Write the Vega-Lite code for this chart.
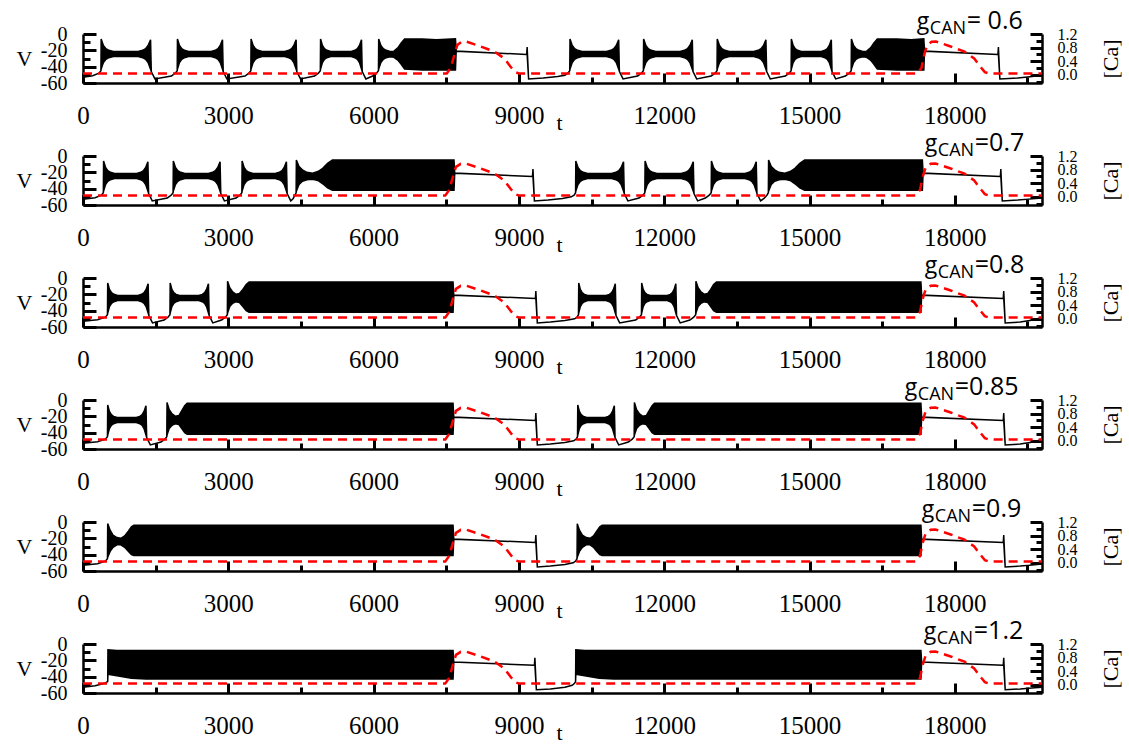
{
"$schema": "https://vega.github.io/schema/vega-lite/v6.json",
"padding": {"left": 16, "top": 9, "right": 5, "bottom": 0},
"background": "white",
"config": {"view": {"stroke": null}, "axis": {"grid": false, "ticks": true, "domainColor": "black", "tickColor": "black", "labelColor": "black", "titleColor": "black", "domainWidth": 2.5, "tickWidth": 3, "tickOpacity": 1, "labelFont": "Liberation Serif", "titleFont": "Liberation Serif", "titleFontWeight": "normal", "labelOverlap": false, "labelFlush": false}},
"spacing": 73,
"bounds": "flush",
"datasets": {
"lab": [
{"p":1,"g":"g","s":"CAN","v":"= 0.6"},
{"p":2,"g":"g","s":"CAN","v":"=0.7"},
{"p":3,"g":"g","s":"CAN","v":"=0.8"},
{"p":4,"g":"g","s":"CAN","v":"=0.85"},
{"p":5,"g":"g","s":"CAN","v":"=0.9"},
{"p":6,"g":"g","s":"CAN","v":"=1.2"}
],
"ca": [
{"p":1,"t":0,"c":0.04},{"p":1,"t":7510,"c":0.04},{"p":1,"t":7590,"c":0.2},{"p":1,"t":7670,"c":0.6},{"p":1,"t":7730,"c":0.88},{"p":1,"t":7820,"c":0.97},{"p":1,"t":7910,"c":0.98},{"p":1,"t":8200,"c":0.84},{"p":1,"t":8500,"c":0.68},{"p":1,"t":8700,"c":0.48},{"p":1,"t":8820,"c":0.25},{"p":1,"t":8920,"c":0.08},{"p":1,"t":9000,"c":0.04},{"p":1,"t":17230,"c":0.04},{"p":1,"t":17310,"c":0.2},{"p":1,"t":17370,"c":0.6},{"p":1,"t":17430,"c":0.88},{"p":1,"t":17520,"c":0.97},{"p":1,"t":17610,"c":0.98},{"p":1,"t":17900,"c":0.84},{"p":1,"t":18200,"c":0.68},{"p":1,"t":18400,"c":0.48},{"p":1,"t":18520,"c":0.25},{"p":1,"t":18620,"c":0.08},{"p":1,"t":18700,"c":0.04},{"p":1,"t":19800,"c":0.04},
{"p":2,"t":0,"c":0.04},{"p":2,"t":7480,"c":0.04},{"p":2,"t":7560,"c":0.2},{"p":2,"t":7640,"c":0.6},{"p":2,"t":7700,"c":0.88},{"p":2,"t":7800,"c":0.97},{"p":2,"t":7900,"c":0.98},{"p":2,"t":8200,"c":0.84},{"p":2,"t":8500,"c":0.68},{"p":2,"t":8700,"c":0.48},{"p":2,"t":8820,"c":0.25},{"p":2,"t":8920,"c":0.08},{"p":2,"t":9000,"c":0.04},{"p":2,"t":17200,"c":0.04},{"p":2,"t":17280,"c":0.2},{"p":2,"t":17340,"c":0.6},{"p":2,"t":17400,"c":0.88},{"p":2,"t":17500,"c":0.97},{"p":2,"t":17600,"c":0.98},{"p":2,"t":17900,"c":0.84},{"p":2,"t":18200,"c":0.68},{"p":2,"t":18400,"c":0.48},{"p":2,"t":18520,"c":0.25},{"p":2,"t":18620,"c":0.08},{"p":2,"t":18700,"c":0.04},{"p":2,"t":19800,"c":0.04},
{"p":3,"t":0,"c":0.04},{"p":3,"t":7480,"c":0.04},{"p":3,"t":7560,"c":0.2},{"p":3,"t":7640,"c":0.6},{"p":3,"t":7700,"c":0.88},{"p":3,"t":7800,"c":0.97},{"p":3,"t":7900,"c":0.98},{"p":3,"t":8200,"c":0.84},{"p":3,"t":8500,"c":0.68},{"p":3,"t":8700,"c":0.48},{"p":3,"t":8820,"c":0.25},{"p":3,"t":8920,"c":0.08},{"p":3,"t":9000,"c":0.04},{"p":3,"t":17200,"c":0.04},{"p":3,"t":17280,"c":0.2},{"p":3,"t":17340,"c":0.6},{"p":3,"t":17400,"c":0.88},{"p":3,"t":17500,"c":0.97},{"p":3,"t":17600,"c":0.98},{"p":3,"t":17900,"c":0.84},{"p":3,"t":18200,"c":0.68},{"p":3,"t":18400,"c":0.48},{"p":3,"t":18520,"c":0.25},{"p":3,"t":18620,"c":0.08},{"p":3,"t":18700,"c":0.04},{"p":3,"t":19800,"c":0.04},
{"p":4,"t":0,"c":0.04},{"p":4,"t":7480,"c":0.04},{"p":4,"t":7560,"c":0.2},{"p":4,"t":7640,"c":0.6},{"p":4,"t":7700,"c":0.88},{"p":4,"t":7800,"c":0.97},{"p":4,"t":7900,"c":0.98},{"p":4,"t":8200,"c":0.84},{"p":4,"t":8500,"c":0.68},{"p":4,"t":8700,"c":0.48},{"p":4,"t":8820,"c":0.25},{"p":4,"t":8920,"c":0.08},{"p":4,"t":9000,"c":0.04},{"p":4,"t":17200,"c":0.04},{"p":4,"t":17280,"c":0.2},{"p":4,"t":17340,"c":0.6},{"p":4,"t":17400,"c":0.88},{"p":4,"t":17500,"c":0.97},{"p":4,"t":17600,"c":0.98},{"p":4,"t":17900,"c":0.84},{"p":4,"t":18200,"c":0.68},{"p":4,"t":18400,"c":0.48},{"p":4,"t":18520,"c":0.25},{"p":4,"t":18620,"c":0.08},{"p":4,"t":18700,"c":0.04},{"p":4,"t":19800,"c":0.04},
{"p":5,"t":0,"c":0.04},{"p":5,"t":7480,"c":0.04},{"p":5,"t":7560,"c":0.2},{"p":5,"t":7640,"c":0.6},{"p":5,"t":7700,"c":0.88},{"p":5,"t":7800,"c":0.97},{"p":5,"t":7900,"c":0.98},{"p":5,"t":8200,"c":0.84},{"p":5,"t":8500,"c":0.68},{"p":5,"t":8700,"c":0.48},{"p":5,"t":8820,"c":0.25},{"p":5,"t":8920,"c":0.08},{"p":5,"t":9000,"c":0.04},{"p":5,"t":17200,"c":0.04},{"p":5,"t":17280,"c":0.2},{"p":5,"t":17340,"c":0.6},{"p":5,"t":17400,"c":0.88},{"p":5,"t":17500,"c":0.97},{"p":5,"t":17600,"c":0.98},{"p":5,"t":17900,"c":0.84},{"p":5,"t":18200,"c":0.68},{"p":5,"t":18400,"c":0.48},{"p":5,"t":18520,"c":0.25},{"p":5,"t":18620,"c":0.08},{"p":5,"t":18700,"c":0.04},{"p":5,"t":19800,"c":0.04},
{"p":6,"t":0,"c":0.04},{"p":6,"t":7480,"c":0.04},{"p":6,"t":7560,"c":0.2},{"p":6,"t":7640,"c":0.6},{"p":6,"t":7700,"c":0.88},{"p":6,"t":7800,"c":0.97},{"p":6,"t":7900,"c":0.98},{"p":6,"t":8200,"c":0.84},{"p":6,"t":8500,"c":0.68},{"p":6,"t":8700,"c":0.48},{"p":6,"t":8820,"c":0.25},{"p":6,"t":8920,"c":0.08},{"p":6,"t":9000,"c":0.04},{"p":6,"t":17200,"c":0.04},{"p":6,"t":17280,"c":0.2},{"p":6,"t":17340,"c":0.6},{"p":6,"t":17400,"c":0.88},{"p":6,"t":17500,"c":0.97},{"p":6,"t":17600,"c":0.98},{"p":6,"t":17900,"c":0.84},{"p":6,"t":18200,"c":0.68},{"p":6,"t":18400,"c":0.48},{"p":6,"t":18520,"c":0.25},{"p":6,"t":18620,"c":0.08},{"p":6,"t":18700,"c":0.04},{"p":6,"t":19800,"c":0.04}
],
"v": [
{"p":1,"t":0,"h":-53,"l":-53},{"p":1,"t":200,"h":-51,"l":-51},{"p":1,"t":330,"h":-48,"l":-48},
{"p":1,"t":370,"h":-45,"l":-45},{"p":1,"t":375,"h":-6,"l":-43},{"p":1,"t":421,"h":-14,"l":-35},{"p":1,"t":473,"h":-18,"l":-31},{"p":1,"t":534,"h":-20,"l":-29},{"p":1,"t":626,"h":-21.5,"l":-27.5},{"p":1,"t":1139,"h":-21.5,"l":-27.5},{"p":1,"t":1231,"h":-20,"l":-29},{"p":1,"t":1293,"h":-18,"l":-31},{"p":1,"t":1344,"h":-14,"l":-35},{"p":1,"t":1395,"h":-7,"l":-43},{"p":1,"t":1410,"h":-46,"l":-46},{"p":1,"t":1485,"h":-55,"l":-55},{"p":1,"t":1825,"h":-51.5,"l":-51.5},{"p":1,"t":1905,"h":-48,"l":-48},
{"p":1,"t":1945,"h":-45,"l":-45},{"p":1,"t":1950,"h":-6,"l":-43},{"p":1,"t":1992,"h":-14,"l":-35},{"p":1,"t":2039,"h":-18,"l":-31},{"p":1,"t":2095,"h":-20,"l":-29},{"p":1,"t":2179,"h":-21.5,"l":-27.5},{"p":1,"t":2646,"h":-21.5,"l":-27.5},{"p":1,"t":2730,"h":-20,"l":-29},{"p":1,"t":2787,"h":-18,"l":-31},{"p":1,"t":2833,"h":-14,"l":-35},{"p":1,"t":2880,"h":-7,"l":-43},{"p":1,"t":2895,"h":-46,"l":-46},{"p":1,"t":2970,"h":-55,"l":-55},{"p":1,"t":3345,"h":-51.5,"l":-51.5},{"p":1,"t":3425,"h":-48,"l":-48},
{"p":1,"t":3465,"h":-45,"l":-45},{"p":1,"t":3470,"h":-6,"l":-43},{"p":1,"t":3512,"h":-14,"l":-35},{"p":1,"t":3559,"h":-18,"l":-31},{"p":1,"t":3615,"h":-20,"l":-29},{"p":1,"t":3699,"h":-21.5,"l":-27.5},{"p":1,"t":4166,"h":-21.5,"l":-27.5},{"p":1,"t":4250,"h":-20,"l":-29},{"p":1,"t":4307,"h":-18,"l":-31},{"p":1,"t":4353,"h":-14,"l":-35},{"p":1,"t":4400,"h":-7,"l":-43},{"p":1,"t":4415,"h":-46,"l":-46},{"p":1,"t":4490,"h":-55,"l":-55},{"p":1,"t":4780,"h":-51.5,"l":-51.5},{"p":1,"t":4860,"h":-48,"l":-48},
{"p":1,"t":4900,"h":-45,"l":-45},{"p":1,"t":4905,"h":-6,"l":-43},{"p":1,"t":4943,"h":-14,"l":-35},{"p":1,"t":4985,"h":-18,"l":-31},{"p":1,"t":5036,"h":-20,"l":-29},{"p":1,"t":5113,"h":-21.5,"l":-27.5},{"p":1,"t":5538,"h":-21.5,"l":-27.5},{"p":1,"t":5614,"h":-20,"l":-29},{"p":1,"t":5665,"h":-18,"l":-31},{"p":1,"t":5708,"h":-14,"l":-35},{"p":1,"t":5750,"h":-7,"l":-43},{"p":1,"t":5765,"h":-46,"l":-46},{"p":1,"t":5840,"h":-55,"l":-55},{"p":1,"t":5980,"h":-51.5,"l":-51.5},{"p":1,"t":6060,"h":-48,"l":-48},
{"p":1,"t":6100,"h":-45,"l":-45},{"p":1,"t":6105,"h":-6,"l":-43},{"p":1,"t":6150,"h":-14,"l":-35},{"p":1,"t":6200,"h":-18,"l":-31},{"p":1,"t":6260,"h":-20,"l":-29},{"p":1,"t":6340,"h":-21.5,"l":-28},{"p":1,"t":6420,"h":-21,"l":-28.5},{"p":1,"t":6500,"h":-17,"l":-32},{"p":1,"t":6570,"h":-11,"l":-37},{"p":1,"t":6640,"h":-6,"l":-43},{"p":1,"t":7000,"h":-6,"l":-44},{"p":1,"t":7300,"h":-7,"l":-44},{"p":1,"t":7690,"h":-6,"l":-44},
{"p":1,"t":7705,"h":-21,"l":-21},{"p":1,"t":9160,"h":-25,"l":-25},{"p":1,"t":9170,"h":-16,"l":-25},{"p":1,"t":9200,"h":-55,"l":-55},{"p":1,"t":9500,"h":-54,"l":-54},{"p":1,"t":9800,"h":-52,"l":-52},{"p":1,"t":9950,"h":-50.5,"l":-50.5},{"p":1,"t":10010,"h":-48,"l":-48},
{"p":1,"t":10050,"h":-45,"l":-45},{"p":1,"t":10055,"h":-6,"l":-43},{"p":1,"t":10101,"h":-14,"l":-35},{"p":1,"t":10151,"h":-18,"l":-31},{"p":1,"t":10212,"h":-20,"l":-29},{"p":1,"t":10303,"h":-21.5,"l":-27.5},{"p":1,"t":10808,"h":-21.5,"l":-27.5},{"p":1,"t":10898,"h":-20,"l":-29},{"p":1,"t":10959,"h":-18,"l":-31},{"p":1,"t":11010,"h":-14,"l":-35},{"p":1,"t":11060,"h":-7,"l":-43},{"p":1,"t":11075,"h":-46,"l":-46},{"p":1,"t":11150,"h":-55,"l":-55},{"p":1,"t":11450,"h":-51.5,"l":-51.5},{"p":1,"t":11530,"h":-48,"l":-48},
{"p":1,"t":11570,"h":-45,"l":-45},{"p":1,"t":11575,"h":-6,"l":-43},{"p":1,"t":11621,"h":-14,"l":-35},{"p":1,"t":11671,"h":-18,"l":-31},{"p":1,"t":11732,"h":-20,"l":-29},{"p":1,"t":11823,"h":-21.5,"l":-27.5},{"p":1,"t":12328,"h":-21.5,"l":-27.5},{"p":1,"t":12418,"h":-20,"l":-29},{"p":1,"t":12479,"h":-18,"l":-31},{"p":1,"t":12530,"h":-14,"l":-35},{"p":1,"t":12580,"h":-7,"l":-43},{"p":1,"t":12595,"h":-46,"l":-46},{"p":1,"t":12670,"h":-55,"l":-55},{"p":1,"t":12970,"h":-51.5,"l":-51.5},{"p":1,"t":13050,"h":-48,"l":-48},
{"p":1,"t":13090,"h":-45,"l":-45},{"p":1,"t":13095,"h":-6,"l":-43},{"p":1,"t":13141,"h":-14,"l":-35},{"p":1,"t":13191,"h":-18,"l":-31},{"p":1,"t":13252,"h":-20,"l":-29},{"p":1,"t":13343,"h":-21.5,"l":-27.5},{"p":1,"t":13848,"h":-21.5,"l":-27.5},{"p":1,"t":13938,"h":-20,"l":-29},{"p":1,"t":13999,"h":-18,"l":-31},{"p":1,"t":14050,"h":-14,"l":-35},{"p":1,"t":14100,"h":-7,"l":-43},{"p":1,"t":14115,"h":-46,"l":-46},{"p":1,"t":14190,"h":-55,"l":-55},{"p":1,"t":14500,"h":-51.5,"l":-51.5},{"p":1,"t":14580,"h":-48,"l":-48},
{"p":1,"t":14620,"h":-45,"l":-45},{"p":1,"t":14625,"h":-6,"l":-43},{"p":1,"t":14662,"h":-14,"l":-35},{"p":1,"t":14703,"h":-18,"l":-31},{"p":1,"t":14753,"h":-20,"l":-29},{"p":1,"t":14828,"h":-21.5,"l":-27.5},{"p":1,"t":15243,"h":-21.5,"l":-27.5},{"p":1,"t":15317,"h":-20,"l":-29},{"p":1,"t":15367,"h":-18,"l":-31},{"p":1,"t":15409,"h":-14,"l":-35},{"p":1,"t":15450,"h":-7,"l":-43},{"p":1,"t":15465,"h":-46,"l":-46},{"p":1,"t":15540,"h":-55,"l":-55},{"p":1,"t":15740,"h":-51.5,"l":-51.5},{"p":1,"t":15820,"h":-48,"l":-48},
{"p":1,"t":15860,"h":-45,"l":-45},{"p":1,"t":15865,"h":-6,"l":-43},{"p":1,"t":15910,"h":-14,"l":-35},{"p":1,"t":15960,"h":-18,"l":-31},{"p":1,"t":16020,"h":-20,"l":-29},{"p":1,"t":16100,"h":-21.5,"l":-28},{"p":1,"t":16180,"h":-21,"l":-28.5},{"p":1,"t":16260,"h":-17,"l":-32},{"p":1,"t":16330,"h":-11,"l":-37},{"p":1,"t":16400,"h":-6,"l":-43},{"p":1,"t":16800,"h":-6,"l":-44},{"p":1,"t":17100,"h":-7,"l":-44},{"p":1,"t":17360,"h":-6,"l":-44},
{"p":1,"t":17375,"h":-21,"l":-21},{"p":1,"t":18890,"h":-25,"l":-25},{"p":1,"t":18900,"h":-16,"l":-25},{"p":1,"t":18930,"h":-55,"l":-55},{"p":1,"t":19300,"h":-54,"l":-54},{"p":1,"t":19600,"h":-52,"l":-52},{"p":1,"t":19800,"h":-50,"l":-50},

{"p":2,"t":0,"h":-53,"l":-53},{"p":2,"t":250,"h":-51,"l":-51},{"p":2,"t":380,"h":-48,"l":-48},
{"p":2,"t":420,"h":-45,"l":-45},{"p":2,"t":425,"h":-6,"l":-43},{"p":2,"t":466,"h":-14,"l":-35},{"p":2,"t":512,"h":-18,"l":-31},{"p":2,"t":567,"h":-20,"l":-29},{"p":2,"t":650,"h":-21.5,"l":-27.5},{"p":2,"t":1110,"h":-21.5,"l":-27.5},{"p":2,"t":1193,"h":-20,"l":-29},{"p":2,"t":1248,"h":-18,"l":-31},{"p":2,"t":1294,"h":-14,"l":-35},{"p":2,"t":1340,"h":-7,"l":-43},{"p":2,"t":1355,"h":-46,"l":-46},{"p":2,"t":1430,"h":-55,"l":-55},{"p":2,"t":1740,"h":-51.5,"l":-51.5},{"p":2,"t":1820,"h":-48,"l":-48},
{"p":2,"t":1860,"h":-45,"l":-45},{"p":2,"t":1865,"h":-6,"l":-43},{"p":2,"t":1909,"h":-14,"l":-35},{"p":2,"t":1957,"h":-18,"l":-31},{"p":2,"t":2015,"h":-20,"l":-29},{"p":2,"t":2103,"h":-21.5,"l":-27.5},{"p":2,"t":2588,"h":-21.5,"l":-27.5},{"p":2,"t":2675,"h":-20,"l":-29},{"p":2,"t":2733,"h":-18,"l":-31},{"p":2,"t":2782,"h":-14,"l":-35},{"p":2,"t":2830,"h":-7,"l":-43},{"p":2,"t":2845,"h":-46,"l":-46},{"p":2,"t":2920,"h":-55,"l":-55},{"p":2,"t":3160,"h":-51.5,"l":-51.5},{"p":2,"t":3240,"h":-48,"l":-48},
{"p":2,"t":3280,"h":-45,"l":-45},{"p":2,"t":3285,"h":-6,"l":-43},{"p":2,"t":3326,"h":-14,"l":-35},{"p":2,"t":3372,"h":-18,"l":-31},{"p":2,"t":3427,"h":-20,"l":-29},{"p":2,"t":3510,"h":-21.5,"l":-27.5},{"p":2,"t":3970,"h":-21.5,"l":-27.5},{"p":2,"t":4053,"h":-20,"l":-29},{"p":2,"t":4108,"h":-18,"l":-31},{"p":2,"t":4154,"h":-14,"l":-35},{"p":2,"t":4200,"h":-7,"l":-43},{"p":2,"t":4215,"h":-46,"l":-46},{"p":2,"t":4290,"h":-55,"l":-55},{"p":2,"t":4340,"h":-52,"l":-52},{"p":2,"t":4375,"h":-48,"l":-48},
{"p":2,"t":4400,"h":-45,"l":-45},{"p":2,"t":4405,"h":-5,"l":-43},{"p":2,"t":4460,"h":-13,"l":-35},{"p":2,"t":4530,"h":-17,"l":-31},{"p":2,"t":4620,"h":-20,"l":-29},{"p":2,"t":4740,"h":-21,"l":-28.5},{"p":2,"t":4850,"h":-19,"l":-30},{"p":2,"t":4950,"h":-15,"l":-34},{"p":2,"t":5050,"h":-9,"l":-39},{"p":2,"t":5150,"h":-5,"l":-42},{"p":2,"t":6000,"h":-5,"l":-42},{"p":2,"t":7000,"h":-5,"l":-42},{"p":2,"t":7660,"h":-5,"l":-42},
{"p":2,"t":7675,"h":-21,"l":-21},{"p":2,"t":9280,"h":-25,"l":-25},{"p":2,"t":9290,"h":-16,"l":-25},{"p":2,"t":9320,"h":-55,"l":-55},{"p":2,"t":9600,"h":-54,"l":-54},{"p":2,"t":9900,"h":-52,"l":-52},{"p":2,"t":10080,"h":-50,"l":-50},{"p":2,"t":10140,"h":-48,"l":-48},
{"p":2,"t":10170,"h":-45,"l":-45},{"p":2,"t":10175,"h":-6,"l":-43},{"p":2,"t":10220,"h":-14,"l":-35},{"p":2,"t":10269,"h":-18,"l":-31},{"p":2,"t":10328,"h":-20,"l":-29},{"p":2,"t":10418,"h":-21.5,"l":-27.5},{"p":2,"t":10913,"h":-21.5,"l":-27.5},{"p":2,"t":11002,"h":-20,"l":-29},{"p":2,"t":11061,"h":-18,"l":-31},{"p":2,"t":11111,"h":-14,"l":-35},{"p":2,"t":11160,"h":-7,"l":-43},{"p":2,"t":11175,"h":-46,"l":-46},{"p":2,"t":11250,"h":-55,"l":-55},{"p":2,"t":11480,"h":-51.5,"l":-51.5},{"p":2,"t":11560,"h":-48,"l":-48},
{"p":2,"t":11600,"h":-45,"l":-45},{"p":2,"t":11605,"h":-6,"l":-43},{"p":2,"t":11650,"h":-14,"l":-35},{"p":2,"t":11700,"h":-18,"l":-31},{"p":2,"t":11760,"h":-20,"l":-29},{"p":2,"t":11850,"h":-21.5,"l":-27.5},{"p":2,"t":12350,"h":-21.5,"l":-27.5},{"p":2,"t":12440,"h":-20,"l":-29},{"p":2,"t":12500,"h":-18,"l":-31},{"p":2,"t":12550,"h":-14,"l":-35},{"p":2,"t":12600,"h":-7,"l":-43},{"p":2,"t":12615,"h":-46,"l":-46},{"p":2,"t":12690,"h":-55,"l":-55},{"p":2,"t":12850,"h":-51.5,"l":-51.5},{"p":2,"t":12930,"h":-48,"l":-48},
{"p":2,"t":12970,"h":-45,"l":-45},{"p":2,"t":12975,"h":-6,"l":-43},{"p":2,"t":13017,"h":-14,"l":-35},{"p":2,"t":13063,"h":-18,"l":-31},{"p":2,"t":13119,"h":-20,"l":-29},{"p":2,"t":13203,"h":-21.5,"l":-27.5},{"p":2,"t":13668,"h":-21.5,"l":-27.5},{"p":2,"t":13751,"h":-20,"l":-29},{"p":2,"t":13807,"h":-18,"l":-31},{"p":2,"t":13854,"h":-14,"l":-35},{"p":2,"t":13900,"h":-7,"l":-43},{"p":2,"t":13915,"h":-46,"l":-46},{"p":2,"t":13990,"h":-55,"l":-55},{"p":2,"t":14060,"h":-52,"l":-52},{"p":2,"t":14120,"h":-48,"l":-48},
{"p":2,"t":14150,"h":-45,"l":-45},{"p":2,"t":14155,"h":-5,"l":-43},{"p":2,"t":14210,"h":-13,"l":-35},{"p":2,"t":14280,"h":-17,"l":-31},{"p":2,"t":14370,"h":-20,"l":-29},{"p":2,"t":14490,"h":-21,"l":-28.5},{"p":2,"t":14600,"h":-19,"l":-30},{"p":2,"t":14700,"h":-15,"l":-34},{"p":2,"t":14800,"h":-9,"l":-39},{"p":2,"t":14900,"h":-5,"l":-42},{"p":2,"t":16000,"h":-5,"l":-42},{"p":2,"t":17330,"h":-5,"l":-42},
{"p":2,"t":17345,"h":-21,"l":-21},{"p":2,"t":18940,"h":-25,"l":-25},{"p":2,"t":18950,"h":-16,"l":-25},{"p":2,"t":18980,"h":-55,"l":-55},{"p":2,"t":19300,"h":-54,"l":-54},{"p":2,"t":19600,"h":-52.5,"l":-52.5},{"p":2,"t":19800,"h":-51.5,"l":-51.5},

{"p":3,"t":0,"h":-53,"l":-53},{"p":3,"t":300,"h":-51,"l":-51},{"p":3,"t":460,"h":-48,"l":-48},
{"p":3,"t":505,"h":-45,"l":-45},{"p":3,"t":510,"h":-6,"l":-43},{"p":3,"t":547,"h":-14,"l":-35},{"p":3,"t":589,"h":-18,"l":-31},{"p":3,"t":639,"h":-20,"l":-29},{"p":3,"t":715,"h":-21.5,"l":-27.5},{"p":3,"t":1135,"h":-21.5,"l":-27.5},{"p":3,"t":1211,"h":-20,"l":-29},{"p":3,"t":1261,"h":-18,"l":-31},{"p":3,"t":1303,"h":-14,"l":-35},{"p":3,"t":1345,"h":-7,"l":-43},{"p":3,"t":1360,"h":-46,"l":-46},{"p":3,"t":1435,"h":-55,"l":-55},{"p":3,"t":1675,"h":-51.5,"l":-51.5},{"p":3,"t":1755,"h":-48,"l":-48},
{"p":3,"t":1795,"h":-45,"l":-45},{"p":3,"t":1800,"h":-6,"l":-43},{"p":3,"t":1835,"h":-14,"l":-35},{"p":3,"t":1875,"h":-18,"l":-31},{"p":3,"t":1922,"h":-20,"l":-29},{"p":3,"t":1994,"h":-21.5,"l":-27.5},{"p":3,"t":2391,"h":-21.5,"l":-27.5},{"p":3,"t":2463,"h":-20,"l":-29},{"p":3,"t":2511,"h":-18,"l":-31},{"p":3,"t":2550,"h":-14,"l":-35},{"p":3,"t":2590,"h":-7,"l":-43},{"p":3,"t":2605,"h":-46,"l":-46},{"p":3,"t":2680,"h":-55,"l":-55},{"p":3,"t":2860,"h":-51.5,"l":-51.5},{"p":3,"t":2940,"h":-48,"l":-48},
{"p":3,"t":2980,"h":-45,"l":-45},{"p":3,"t":2985,"h":-4,"l":-43},{"p":3,"t":3030,"h":-12,"l":-35},{"p":3,"t":3090,"h":-17,"l":-31},{"p":3,"t":3160,"h":-20,"l":-29},{"p":3,"t":3230,"h":-19,"l":-30},{"p":3,"t":3300,"h":-14,"l":-35},{"p":3,"t":3370,"h":-8,"l":-40},{"p":3,"t":3430,"h":-5,"l":-42},{"p":3,"t":5000,"h":-5,"l":-42},{"p":3,"t":7640,"h":-5,"l":-42},
{"p":3,"t":7655,"h":-21,"l":-21},{"p":3,"t":9340,"h":-25,"l":-25},{"p":3,"t":9350,"h":-16,"l":-25},{"p":3,"t":9380,"h":-55,"l":-55},{"p":3,"t":9650,"h":-54,"l":-54},{"p":3,"t":9950,"h":-52,"l":-52},{"p":3,"t":10150,"h":-50,"l":-50},{"p":3,"t":10200,"h":-48,"l":-48},
{"p":3,"t":10230,"h":-45,"l":-45},{"p":3,"t":10235,"h":-6,"l":-43},{"p":3,"t":10268,"h":-14,"l":-35},{"p":3,"t":10306,"h":-18,"l":-31},{"p":3,"t":10352,"h":-20,"l":-29},{"p":3,"t":10420,"h":-21.5,"l":-27.5},{"p":3,"t":10800,"h":-21.5,"l":-27.5},{"p":3,"t":10868,"h":-20,"l":-29},{"p":3,"t":10914,"h":-18,"l":-31},{"p":3,"t":10952,"h":-14,"l":-35},{"p":3,"t":10990,"h":-7,"l":-43},{"p":3,"t":11005,"h":-46,"l":-46},{"p":3,"t":11080,"h":-55,"l":-55},{"p":3,"t":11410,"h":-51.5,"l":-51.5},{"p":3,"t":11490,"h":-48,"l":-48},
{"p":3,"t":11530,"h":-45,"l":-45},{"p":3,"t":11535,"h":-6,"l":-43},{"p":3,"t":11566,"h":-14,"l":-35},{"p":3,"t":11601,"h":-18,"l":-31},{"p":3,"t":11644,"h":-20,"l":-29},{"p":3,"t":11708,"h":-21.5,"l":-27.5},{"p":3,"t":12063,"h":-21.5,"l":-27.5},{"p":3,"t":12126,"h":-20,"l":-29},{"p":3,"t":12169,"h":-18,"l":-31},{"p":3,"t":12205,"h":-14,"l":-35},{"p":3,"t":12240,"h":-7,"l":-43},{"p":3,"t":12255,"h":-46,"l":-46},{"p":3,"t":12330,"h":-55,"l":-55},{"p":3,"t":12530,"h":-51.5,"l":-51.5},{"p":3,"t":12610,"h":-48,"l":-48},
{"p":3,"t":12650,"h":-45,"l":-45},{"p":3,"t":12655,"h":-4,"l":-43},{"p":3,"t":12700,"h":-12,"l":-35},{"p":3,"t":12760,"h":-17,"l":-31},{"p":3,"t":12830,"h":-20,"l":-29},{"p":3,"t":12900,"h":-19,"l":-30},{"p":3,"t":12960,"h":-14,"l":-35},{"p":3,"t":13020,"h":-8,"l":-40},{"p":3,"t":13080,"h":-5,"l":-42},{"p":3,"t":15000,"h":-5,"l":-42},{"p":3,"t":17300,"h":-5,"l":-42},
{"p":3,"t":17315,"h":-21,"l":-21},{"p":3,"t":19000,"h":-25,"l":-25},{"p":3,"t":19010,"h":-16,"l":-25},{"p":3,"t":19040,"h":-55,"l":-55},{"p":3,"t":19350,"h":-54,"l":-54},{"p":3,"t":19650,"h":-51,"l":-51},{"p":3,"t":19800,"h":-48,"l":-48},

{"p":4,"t":0,"h":-53,"l":-53},{"p":4,"t":300,"h":-51,"l":-51},{"p":4,"t":460,"h":-48,"l":-48},
{"p":4,"t":505,"h":-45,"l":-45},{"p":4,"t":510,"h":-6,"l":-43},{"p":4,"t":545,"h":-14,"l":-35},{"p":4,"t":585,"h":-18,"l":-31},{"p":4,"t":632,"h":-20,"l":-29},{"p":4,"t":704,"h":-21.5,"l":-27.5},{"p":4,"t":1101,"h":-21.5,"l":-27.5},{"p":4,"t":1173,"h":-20,"l":-29},{"p":4,"t":1221,"h":-18,"l":-31},{"p":4,"t":1260,"h":-14,"l":-35},{"p":4,"t":1300,"h":-7,"l":-43},{"p":4,"t":1315,"h":-46,"l":-46},{"p":4,"t":1390,"h":-55,"l":-55},{"p":4,"t":1610,"h":-51.5,"l":-51.5},{"p":4,"t":1690,"h":-48,"l":-48},
{"p":4,"t":1730,"h":-45,"l":-45},{"p":4,"t":1735,"h":-3,"l":-43},{"p":4,"t":1780,"h":-12,"l":-35},{"p":4,"t":1840,"h":-17,"l":-31},{"p":4,"t":1910,"h":-20,"l":-29},{"p":4,"t":1980,"h":-19,"l":-30},{"p":4,"t":2040,"h":-13,"l":-35},{"p":4,"t":2100,"h":-7,"l":-40},{"p":4,"t":2150,"h":-4,"l":-42},{"p":4,"t":5000,"h":-4,"l":-42},{"p":4,"t":7640,"h":-4,"l":-42},
{"p":4,"t":7655,"h":-21,"l":-21},{"p":4,"t":9340,"h":-25,"l":-25},{"p":4,"t":9350,"h":-16,"l":-25},{"p":4,"t":9380,"h":-55,"l":-55},{"p":4,"t":9650,"h":-54,"l":-54},{"p":4,"t":9950,"h":-52,"l":-52},{"p":4,"t":10130,"h":-50,"l":-50},{"p":4,"t":10180,"h":-48,"l":-48},
{"p":4,"t":10210,"h":-45,"l":-45},{"p":4,"t":10215,"h":-6,"l":-43},{"p":4,"t":10248,"h":-14,"l":-35},{"p":4,"t":10286,"h":-18,"l":-31},{"p":4,"t":10332,"h":-20,"l":-29},{"p":4,"t":10400,"h":-21.5,"l":-27.5},{"p":4,"t":10780,"h":-21.5,"l":-27.5},{"p":4,"t":10848,"h":-20,"l":-29},{"p":4,"t":10894,"h":-18,"l":-31},{"p":4,"t":10932,"h":-14,"l":-35},{"p":4,"t":10970,"h":-7,"l":-43},{"p":4,"t":10985,"h":-46,"l":-46},{"p":4,"t":11060,"h":-55,"l":-55},{"p":4,"t":11260,"h":-51.5,"l":-51.5},{"p":4,"t":11340,"h":-48,"l":-48},
{"p":4,"t":11380,"h":-45,"l":-45},{"p":4,"t":11385,"h":-3,"l":-43},{"p":4,"t":11430,"h":-12,"l":-35},{"p":4,"t":11490,"h":-17,"l":-31},{"p":4,"t":11560,"h":-20,"l":-29},{"p":4,"t":11630,"h":-19,"l":-30},{"p":4,"t":11690,"h":-13,"l":-35},{"p":4,"t":11750,"h":-7,"l":-40},{"p":4,"t":11800,"h":-4,"l":-42},{"p":4,"t":15000,"h":-4,"l":-42},{"p":4,"t":17300,"h":-4,"l":-42},
{"p":4,"t":17315,"h":-21,"l":-21},{"p":4,"t":19000,"h":-25,"l":-25},{"p":4,"t":19010,"h":-16,"l":-25},{"p":4,"t":19040,"h":-55,"l":-55},{"p":4,"t":19350,"h":-54,"l":-54},{"p":4,"t":19650,"h":-51,"l":-51},{"p":4,"t":19800,"h":-48,"l":-48},

{"p":5,"t":0,"h":-53,"l":-53},{"p":5,"t":300,"h":-51,"l":-51},{"p":5,"t":460,"h":-48,"l":-48},
{"p":5,"t":505,"h":-45,"l":-45},{"p":5,"t":510,"h":-2,"l":-43},{"p":5,"t":560,"h":-10,"l":-36},{"p":5,"t":620,"h":-16,"l":-31},{"p":5,"t":700,"h":-19,"l":-28},{"p":5,"t":780,"h":-20,"l":-28},{"p":5,"t":860,"h":-17,"l":-31},{"p":5,"t":940,"h":-11,"l":-36},{"p":5,"t":1000,"h":-6,"l":-40},{"p":5,"t":1050,"h":-4,"l":-41},{"p":5,"t":4000,"h":-4,"l":-41},{"p":5,"t":7640,"h":-4,"l":-41},
{"p":5,"t":7655,"h":-21,"l":-21},{"p":5,"t":9340,"h":-25,"l":-25},{"p":5,"t":9350,"h":-16,"l":-25},{"p":5,"t":9380,"h":-55,"l":-55},{"p":5,"t":9650,"h":-54,"l":-54},{"p":5,"t":9950,"h":-52,"l":-52},{"p":5,"t":10120,"h":-50,"l":-50},{"p":5,"t":10170,"h":-48,"l":-48},
{"p":5,"t":10200,"h":-45,"l":-45},{"p":5,"t":10205,"h":-2,"l":-43},{"p":5,"t":10250,"h":-10,"l":-36},{"p":5,"t":10310,"h":-16,"l":-31},{"p":5,"t":10390,"h":-19,"l":-28},{"p":5,"t":10470,"h":-20,"l":-28},{"p":5,"t":10540,"h":-17,"l":-31},{"p":5,"t":10610,"h":-11,"l":-36},{"p":5,"t":10670,"h":-6,"l":-40},{"p":5,"t":10720,"h":-4,"l":-41},{"p":5,"t":14000,"h":-4,"l":-41},{"p":5,"t":17300,"h":-4,"l":-41},
{"p":5,"t":17315,"h":-21,"l":-21},{"p":5,"t":19000,"h":-25,"l":-25},{"p":5,"t":19010,"h":-16,"l":-25},{"p":5,"t":19040,"h":-55,"l":-55},{"p":5,"t":19350,"h":-54,"l":-54},{"p":5,"t":19650,"h":-52.5,"l":-52.5},{"p":5,"t":19800,"h":-51.5,"l":-51.5},

{"p":6,"t":0,"h":-53,"l":-53},{"p":6,"t":250,"h":-51,"l":-51},{"p":6,"t":450,"h":-48,"l":-48},
{"p":6,"t":510,"h":-46,"l":-46},{"p":6,"t":515,"h":-7,"l":-37},{"p":6,"t":700,"h":-8,"l":-39},{"p":6,"t":1000,"h":-8,"l":-42},{"p":6,"t":1300,"h":-8,"l":-43},{"p":6,"t":4000,"h":-8,"l":-43},{"p":6,"t":7640,"h":-8,"l":-43},
{"p":6,"t":7655,"h":-22,"l":-22},{"p":6,"t":9320,"h":-26,"l":-26},{"p":6,"t":9330,"h":-17,"l":-26},{"p":6,"t":9360,"h":-56,"l":-56},{"p":6,"t":9650,"h":-55,"l":-55},{"p":6,"t":9950,"h":-53,"l":-53},{"p":6,"t":10100,"h":-50.5,"l":-50.5},{"p":6,"t":10150,"h":-48,"l":-48},
{"p":6,"t":10170,"h":-46,"l":-46},{"p":6,"t":10175,"h":-7,"l":-37},{"p":6,"t":10360,"h":-8,"l":-39},{"p":6,"t":10660,"h":-8,"l":-42},{"p":6,"t":10960,"h":-8,"l":-43},{"p":6,"t":14000,"h":-8,"l":-43},{"p":6,"t":17300,"h":-8,"l":-43},
{"p":6,"t":17315,"h":-22,"l":-22},{"p":6,"t":19000,"h":-26,"l":-26},{"p":6,"t":19010,"h":-17,"l":-26},{"p":6,"t":19040,"h":-56,"l":-56},{"p":6,"t":19350,"h":-55,"l":-55},{"p":6,"t":19650,"h":-53.5,"l":-53.5},{"p":6,"t":19800,"h":-53,"l":-53}
]
},
"vconcat": [
{"width": 959, "height": 49, "resolve": {"scale": {"y": "independent"}}, "layer": [
  {"data": {"name": "v"}, "transform": [{"filter": "datum.p == 1"}], "mark": {"type": "area", "fill": "black", "stroke": "black", "strokeWidth": 1.5, "fillOpacity": 1},
   "encoding": {"x": {"field": "t", "type": "quantitative", "scale": {"domain": [0, 19800], "nice": false, "zero": false}, "axis": {"title": "t", "values": [0,1500,3000,4500,6000,7500,9000,10500,12000,13500,15000,16500,18000,19500], "labelExpr": "datum.value % 3000 == 0 ? '' + datum.value : ''", "labelFontSize": 25, "labelPadding": 30, "tickSize": {"condition": {"test": "datum.value % 3000 == 0", "value": -10}, "value": -6}, "titleFontSize": 22, "titleX": 476, "titleY": 46, "titleAlign": "center", "titleBaseline": "alphabetic"}},
    "y": {"field": "h", "type": "quantitative", "scale": {"domain": [-60, 0], "nice": false, "zero": false}, "axis": {"title": "V", "values": [-60,-50,-40,-30,-20,-10,0], "labelExpr": "datum.value % 20 == 0 ? '' + datum.value : ''", "labelFontSize": 20, "labelPadding": 29, "tickSize": {"condition": {"test": "datum.value % 20 == 0", "value": -13}, "value": -7}, "titleAngle": 0, "titleFontSize": 22, "titleX": -51, "titleY": 24.5, "titleAlign": "right", "titleBaseline": "middle"}},
    "y2": {"field": "l"}}},
  {"data": {"name": "ca"}, "transform": [{"filter": "datum.p == 1"}], "mark": {"type": "line", "stroke": "#ff0000", "strokeWidth": 2.5, "strokeDash": [9, 6]},
   "encoding": {"x": {"field": "t", "type": "quantitative"}, "y": {"field": "c", "type": "quantitative", "scale": {"domain": [-0.24, 1.2], "nice": false, "zero": false}, "axis": {"title": "[Ca]", "orient": "right", "values": [-0.2,0,0.2,0.4,0.6,0.8,1,1.2], "labelExpr": "round(datum.value*10) % 4 == 0 ? format(datum.value, '.1f') : ''", "labelFontSize": 16, "labelPadding": 27, "tickSize": {"condition": {"test": "round(datum.value*10) % 4 == 0", "value": -12}, "value": -6}, "titleAngle": 270, "titleFontSize": 22, "titleX": 68, "titleY": 24.5, "titleAlign": "center", "titleBaseline": "middle"}}}},
  {"data": {"name": "lab"}, "transform": [{"filter": "datum.p == 1"}], "mark": {"type": "text", "font": "Open Sans", "fontSize": 23, "align": "left", "baseline": "alphabetic", "color": "black"}, "encoding": {"x": {"datum": 17215}, "y": {"datum": 6, "scale": {"domain": [-60, 0]}, "axis": null}, "text": {"field": "g"}}},
  {"data": {"name": "lab"}, "transform": [{"filter": "datum.p == 1"}], "mark": {"type": "text", "font": "Open Sans", "fontSize": 18, "align": "left", "baseline": "alphabetic", "color": "black"}, "encoding": {"x": {"datum": 17484}, "y": {"datum": -0.5, "scale": {"domain": [-60, 0]}, "axis": null}, "text": {"field": "s"}}},
  {"data": {"name": "lab"}, "transform": [{"filter": "datum.p == 1"}], "mark": {"type": "text", "font": "Open Sans", "fontSize": 25, "align": "left", "baseline": "alphabetic", "color": "black"}, "encoding": {"x": {"datum": 18248}, "y": {"datum": 6, "scale": {"domain": [-60, 0]}, "axis": null}, "text": {"field": "v"}}}
]},
{"width": 959, "height": 49, "resolve": {"scale": {"y": "independent"}}, "layer": [
  {"data": {"name": "v"}, "transform": [{"filter": "datum.p == 2"}], "mark": {"type": "area", "fill": "black", "stroke": "black", "strokeWidth": 1.5, "fillOpacity": 1},
   "encoding": {"x": {"field": "t", "type": "quantitative", "scale": {"domain": [0, 19800], "nice": false, "zero": false}, "axis": {"title": "t", "values": [0,1500,3000,4500,6000,7500,9000,10500,12000,13500,15000,16500,18000,19500], "labelExpr": "datum.value % 3000 == 0 ? '' + datum.value : ''", "labelFontSize": 25, "labelPadding": 30, "tickSize": {"condition": {"test": "datum.value % 3000 == 0", "value": -10}, "value": -6}, "titleFontSize": 22, "titleX": 476, "titleY": 46, "titleAlign": "center", "titleBaseline": "alphabetic"}},
    "y": {"field": "h", "type": "quantitative", "scale": {"domain": [-60, 0], "nice": false, "zero": false}, "axis": {"title": "V", "values": [-60,-50,-40,-30,-20,-10,0], "labelExpr": "datum.value % 20 == 0 ? '' + datum.value : ''", "labelFontSize": 20, "labelPadding": 29, "tickSize": {"condition": {"test": "datum.value % 20 == 0", "value": -13}, "value": -7}, "titleAngle": 0, "titleFontSize": 22, "titleX": -51, "titleY": 24.5, "titleAlign": "right", "titleBaseline": "middle"}},
    "y2": {"field": "l"}}},
  {"data": {"name": "ca"}, "transform": [{"filter": "datum.p == 2"}], "mark": {"type": "line", "stroke": "#ff0000", "strokeWidth": 2.5, "strokeDash": [9, 6]},
   "encoding": {"x": {"field": "t", "type": "quantitative"}, "y": {"field": "c", "type": "quantitative", "scale": {"domain": [-0.24, 1.2], "nice": false, "zero": false}, "axis": {"title": "[Ca]", "orient": "right", "values": [-0.2,0,0.2,0.4,0.6,0.8,1,1.2], "labelExpr": "round(datum.value*10) % 4 == 0 ? format(datum.value, '.1f') : ''", "labelFontSize": 16, "labelPadding": 27, "tickSize": {"condition": {"test": "round(datum.value*10) % 4 == 0", "value": -12}, "value": -6}, "titleAngle": 270, "titleFontSize": 22, "titleX": 68, "titleY": 24.5, "titleAlign": "center", "titleBaseline": "middle"}}}},
  {"data": {"name": "lab"}, "transform": [{"filter": "datum.p == 2"}], "mark": {"type": "text", "font": "Open Sans", "fontSize": 23, "align": "left", "baseline": "alphabetic", "color": "black"}, "encoding": {"x": {"datum": 17380}, "y": {"datum": 6, "scale": {"domain": [-60, 0]}, "axis": null}, "text": {"field": "g"}}},
  {"data": {"name": "lab"}, "transform": [{"filter": "datum.p == 2"}], "mark": {"type": "text", "font": "Open Sans", "fontSize": 18, "align": "left", "baseline": "alphabetic", "color": "black"}, "encoding": {"x": {"datum": 17649}, "y": {"datum": -0.5, "scale": {"domain": [-60, 0]}, "axis": null}, "text": {"field": "s"}}},
  {"data": {"name": "lab"}, "transform": [{"filter": "datum.p == 2"}], "mark": {"type": "text", "font": "Open Sans", "fontSize": 25, "align": "left", "baseline": "alphabetic", "color": "black"}, "encoding": {"x": {"datum": 18413}, "y": {"datum": 6, "scale": {"domain": [-60, 0]}, "axis": null}, "text": {"field": "v"}}}
]},
{"width": 959, "height": 49, "resolve": {"scale": {"y": "independent"}}, "layer": [
  {"data": {"name": "v"}, "transform": [{"filter": "datum.p == 3"}], "mark": {"type": "area", "fill": "black", "stroke": "black", "strokeWidth": 1.5, "fillOpacity": 1},
   "encoding": {"x": {"field": "t", "type": "quantitative", "scale": {"domain": [0, 19800], "nice": false, "zero": false}, "axis": {"title": "t", "values": [0,1500,3000,4500,6000,7500,9000,10500,12000,13500,15000,16500,18000,19500], "labelExpr": "datum.value % 3000 == 0 ? '' + datum.value : ''", "labelFontSize": 25, "labelPadding": 30, "tickSize": {"condition": {"test": "datum.value % 3000 == 0", "value": -10}, "value": -6}, "titleFontSize": 22, "titleX": 476, "titleY": 46, "titleAlign": "center", "titleBaseline": "alphabetic"}},
    "y": {"field": "h", "type": "quantitative", "scale": {"domain": [-60, 0], "nice": false, "zero": false}, "axis": {"title": "V", "values": [-60,-50,-40,-30,-20,-10,0], "labelExpr": "datum.value % 20 == 0 ? '' + datum.value : ''", "labelFontSize": 20, "labelPadding": 29, "tickSize": {"condition": {"test": "datum.value % 20 == 0", "value": -13}, "value": -7}, "titleAngle": 0, "titleFontSize": 22, "titleX": -51, "titleY": 24.5, "titleAlign": "right", "titleBaseline": "middle"}},
    "y2": {"field": "l"}}},
  {"data": {"name": "ca"}, "transform": [{"filter": "datum.p == 3"}], "mark": {"type": "line", "stroke": "#ff0000", "strokeWidth": 2.5, "strokeDash": [9, 6]},
   "encoding": {"x": {"field": "t", "type": "quantitative"}, "y": {"field": "c", "type": "quantitative", "scale": {"domain": [-0.24, 1.2], "nice": false, "zero": false}, "axis": {"title": "[Ca]", "orient": "right", "values": [-0.2,0,0.2,0.4,0.6,0.8,1,1.2], "labelExpr": "round(datum.value*10) % 4 == 0 ? format(datum.value, '.1f') : ''", "labelFontSize": 16, "labelPadding": 27, "tickSize": {"condition": {"test": "round(datum.value*10) % 4 == 0", "value": -12}, "value": -6}, "titleAngle": 270, "titleFontSize": 22, "titleX": 68, "titleY": 24.5, "titleAlign": "center", "titleBaseline": "middle"}}}},
  {"data": {"name": "lab"}, "transform": [{"filter": "datum.p == 3"}], "mark": {"type": "text", "font": "Open Sans", "fontSize": 23, "align": "left", "baseline": "alphabetic", "color": "black"}, "encoding": {"x": {"datum": 17380}, "y": {"datum": 6, "scale": {"domain": [-60, 0]}, "axis": null}, "text": {"field": "g"}}},
  {"data": {"name": "lab"}, "transform": [{"filter": "datum.p == 3"}], "mark": {"type": "text", "font": "Open Sans", "fontSize": 18, "align": "left", "baseline": "alphabetic", "color": "black"}, "encoding": {"x": {"datum": 17649}, "y": {"datum": -0.5, "scale": {"domain": [-60, 0]}, "axis": null}, "text": {"field": "s"}}},
  {"data": {"name": "lab"}, "transform": [{"filter": "datum.p == 3"}], "mark": {"type": "text", "font": "Open Sans", "fontSize": 25, "align": "left", "baseline": "alphabetic", "color": "black"}, "encoding": {"x": {"datum": 18413}, "y": {"datum": 6, "scale": {"domain": [-60, 0]}, "axis": null}, "text": {"field": "v"}}}
]},
{"width": 959, "height": 49, "resolve": {"scale": {"y": "independent"}}, "layer": [
  {"data": {"name": "v"}, "transform": [{"filter": "datum.p == 4"}], "mark": {"type": "area", "fill": "black", "stroke": "black", "strokeWidth": 1.5, "fillOpacity": 1},
   "encoding": {"x": {"field": "t", "type": "quantitative", "scale": {"domain": [0, 19800], "nice": false, "zero": false}, "axis": {"title": "t", "values": [0,1500,3000,4500,6000,7500,9000,10500,12000,13500,15000,16500,18000,19500], "labelExpr": "datum.value % 3000 == 0 ? '' + datum.value : ''", "labelFontSize": 25, "labelPadding": 30, "tickSize": {"condition": {"test": "datum.value % 3000 == 0", "value": -10}, "value": -6}, "titleFontSize": 22, "titleX": 476, "titleY": 46, "titleAlign": "center", "titleBaseline": "alphabetic"}},
    "y": {"field": "h", "type": "quantitative", "scale": {"domain": [-60, 0], "nice": false, "zero": false}, "axis": {"title": "V", "values": [-60,-50,-40,-30,-20,-10,0], "labelExpr": "datum.value % 20 == 0 ? '' + datum.value : ''", "labelFontSize": 20, "labelPadding": 29, "tickSize": {"condition": {"test": "datum.value % 20 == 0", "value": -13}, "value": -7}, "titleAngle": 0, "titleFontSize": 22, "titleX": -51, "titleY": 24.5, "titleAlign": "right", "titleBaseline": "middle"}},
    "y2": {"field": "l"}}},
  {"data": {"name": "ca"}, "transform": [{"filter": "datum.p == 4"}], "mark": {"type": "line", "stroke": "#ff0000", "strokeWidth": 2.5, "strokeDash": [9, 6]},
   "encoding": {"x": {"field": "t", "type": "quantitative"}, "y": {"field": "c", "type": "quantitative", "scale": {"domain": [-0.24, 1.2], "nice": false, "zero": false}, "axis": {"title": "[Ca]", "orient": "right", "values": [-0.2,0,0.2,0.4,0.6,0.8,1,1.2], "labelExpr": "round(datum.value*10) % 4 == 0 ? format(datum.value, '.1f') : ''", "labelFontSize": 16, "labelPadding": 27, "tickSize": {"condition": {"test": "round(datum.value*10) % 4 == 0", "value": -12}, "value": -6}, "titleAngle": 270, "titleFontSize": 22, "titleX": 68, "titleY": 24.5, "titleAlign": "center", "titleBaseline": "middle"}}}},
  {"data": {"name": "lab"}, "transform": [{"filter": "datum.p == 4"}], "mark": {"type": "text", "font": "Open Sans", "fontSize": 23, "align": "left", "baseline": "alphabetic", "color": "black"}, "encoding": {"x": {"datum": 16967}, "y": {"datum": 6, "scale": {"domain": [-60, 0]}, "axis": null}, "text": {"field": "g"}}},
  {"data": {"name": "lab"}, "transform": [{"filter": "datum.p == 4"}], "mark": {"type": "text", "font": "Open Sans", "fontSize": 18, "align": "left", "baseline": "alphabetic", "color": "black"}, "encoding": {"x": {"datum": 17236}, "y": {"datum": -0.5, "scale": {"domain": [-60, 0]}, "axis": null}, "text": {"field": "s"}}},
  {"data": {"name": "lab"}, "transform": [{"filter": "datum.p == 4"}], "mark": {"type": "text", "font": "Open Sans", "fontSize": 25, "align": "left", "baseline": "alphabetic", "color": "black"}, "encoding": {"x": {"datum": 18000}, "y": {"datum": 6, "scale": {"domain": [-60, 0]}, "axis": null}, "text": {"field": "v"}}}
]},
{"width": 959, "height": 49, "resolve": {"scale": {"y": "independent"}}, "layer": [
  {"data": {"name": "v"}, "transform": [{"filter": "datum.p == 5"}], "mark": {"type": "area", "fill": "black", "stroke": "black", "strokeWidth": 1.5, "fillOpacity": 1},
   "encoding": {"x": {"field": "t", "type": "quantitative", "scale": {"domain": [0, 19800], "nice": false, "zero": false}, "axis": {"title": "t", "values": [0,1500,3000,4500,6000,7500,9000,10500,12000,13500,15000,16500,18000,19500], "labelExpr": "datum.value % 3000 == 0 ? '' + datum.value : ''", "labelFontSize": 25, "labelPadding": 30, "tickSize": {"condition": {"test": "datum.value % 3000 == 0", "value": -10}, "value": -6}, "titleFontSize": 22, "titleX": 476, "titleY": 46, "titleAlign": "center", "titleBaseline": "alphabetic"}},
    "y": {"field": "h", "type": "quantitative", "scale": {"domain": [-60, 0], "nice": false, "zero": false}, "axis": {"title": "V", "values": [-60,-50,-40,-30,-20,-10,0], "labelExpr": "datum.value % 20 == 0 ? '' + datum.value : ''", "labelFontSize": 20, "labelPadding": 29, "tickSize": {"condition": {"test": "datum.value % 20 == 0", "value": -13}, "value": -7}, "titleAngle": 0, "titleFontSize": 22, "titleX": -51, "titleY": 24.5, "titleAlign": "right", "titleBaseline": "middle"}},
    "y2": {"field": "l"}}},
  {"data": {"name": "ca"}, "transform": [{"filter": "datum.p == 5"}], "mark": {"type": "line", "stroke": "#ff0000", "strokeWidth": 2.5, "strokeDash": [9, 6]},
   "encoding": {"x": {"field": "t", "type": "quantitative"}, "y": {"field": "c", "type": "quantitative", "scale": {"domain": [-0.24, 1.2], "nice": false, "zero": false}, "axis": {"title": "[Ca]", "orient": "right", "values": [-0.2,0,0.2,0.4,0.6,0.8,1,1.2], "labelExpr": "round(datum.value*10) % 4 == 0 ? format(datum.value, '.1f') : ''", "labelFontSize": 16, "labelPadding": 27, "tickSize": {"condition": {"test": "round(datum.value*10) % 4 == 0", "value": -12}, "value": -6}, "titleAngle": 270, "titleFontSize": 22, "titleX": 68, "titleY": 24.5, "titleAlign": "center", "titleBaseline": "middle"}}}},
  {"data": {"name": "lab"}, "transform": [{"filter": "datum.p == 5"}], "mark": {"type": "text", "font": "Open Sans", "fontSize": 23, "align": "left", "baseline": "alphabetic", "color": "black"}, "encoding": {"x": {"datum": 17318}, "y": {"datum": 6, "scale": {"domain": [-60, 0]}, "axis": null}, "text": {"field": "g"}}},
  {"data": {"name": "lab"}, "transform": [{"filter": "datum.p == 5"}], "mark": {"type": "text", "font": "Open Sans", "fontSize": 18, "align": "left", "baseline": "alphabetic", "color": "black"}, "encoding": {"x": {"datum": 17587}, "y": {"datum": -0.5, "scale": {"domain": [-60, 0]}, "axis": null}, "text": {"field": "s"}}},
  {"data": {"name": "lab"}, "transform": [{"filter": "datum.p == 5"}], "mark": {"type": "text", "font": "Open Sans", "fontSize": 25, "align": "left", "baseline": "alphabetic", "color": "black"}, "encoding": {"x": {"datum": 18351}, "y": {"datum": 6, "scale": {"domain": [-60, 0]}, "axis": null}, "text": {"field": "v"}}}
]},
{"width": 959, "height": 49, "resolve": {"scale": {"y": "independent"}}, "layer": [
  {"data": {"name": "v"}, "transform": [{"filter": "datum.p == 6"}], "mark": {"type": "area", "fill": "black", "stroke": "black", "strokeWidth": 1.5, "fillOpacity": 1},
   "encoding": {"x": {"field": "t", "type": "quantitative", "scale": {"domain": [0, 19800], "nice": false, "zero": false}, "axis": {"title": "t", "values": [0,1500,3000,4500,6000,7500,9000,10500,12000,13500,15000,16500,18000,19500], "labelExpr": "datum.value % 3000 == 0 ? '' + datum.value : ''", "labelFontSize": 25, "labelPadding": 30, "tickSize": {"condition": {"test": "datum.value % 3000 == 0", "value": -10}, "value": -6}, "titleFontSize": 22, "titleX": 476, "titleY": 46, "titleAlign": "center", "titleBaseline": "alphabetic"}},
    "y": {"field": "h", "type": "quantitative", "scale": {"domain": [-60, 0], "nice": false, "zero": false}, "axis": {"title": "V", "values": [-60,-50,-40,-30,-20,-10,0], "labelExpr": "datum.value % 20 == 0 ? '' + datum.value : ''", "labelFontSize": 20, "labelPadding": 29, "tickSize": {"condition": {"test": "datum.value % 20 == 0", "value": -13}, "value": -7}, "titleAngle": 0, "titleFontSize": 22, "titleX": -51, "titleY": 24.5, "titleAlign": "right", "titleBaseline": "middle"}},
    "y2": {"field": "l"}}},
  {"data": {"name": "ca"}, "transform": [{"filter": "datum.p == 6"}], "mark": {"type": "line", "stroke": "#ff0000", "strokeWidth": 2.5, "strokeDash": [9, 6]},
   "encoding": {"x": {"field": "t", "type": "quantitative"}, "y": {"field": "c", "type": "quantitative", "scale": {"domain": [-0.24, 1.2], "nice": false, "zero": false}, "axis": {"title": "[Ca]", "orient": "right", "values": [-0.2,0,0.2,0.4,0.6,0.8,1,1.2], "labelExpr": "round(datum.value*10) % 4 == 0 ? format(datum.value, '.1f') : ''", "labelFontSize": 16, "labelPadding": 27, "tickSize": {"condition": {"test": "round(datum.value*10) % 4 == 0", "value": -12}, "value": -6}, "titleAngle": 270, "titleFontSize": 22, "titleX": 68, "titleY": 24.5, "titleAlign": "center", "titleBaseline": "middle"}}}},
  {"data": {"name": "lab"}, "transform": [{"filter": "datum.p == 6"}], "mark": {"type": "text", "font": "Open Sans", "fontSize": 23, "align": "left", "baseline": "alphabetic", "color": "black"}, "encoding": {"x": {"datum": 17360}, "y": {"datum": 6, "scale": {"domain": [-60, 0]}, "axis": null}, "text": {"field": "g"}}},
  {"data": {"name": "lab"}, "transform": [{"filter": "datum.p == 6"}], "mark": {"type": "text", "font": "Open Sans", "fontSize": 18, "align": "left", "baseline": "alphabetic", "color": "black"}, "encoding": {"x": {"datum": 17628}, "y": {"datum": -0.5, "scale": {"domain": [-60, 0]}, "axis": null}, "text": {"field": "s"}}},
  {"data": {"name": "lab"}, "transform": [{"filter": "datum.p == 6"}], "mark": {"type": "text", "font": "Open Sans", "fontSize": 25, "align": "left", "baseline": "alphabetic", "color": "black"}, "encoding": {"x": {"datum": 18392}, "y": {"datum": 6, "scale": {"domain": [-60, 0]}, "axis": null}, "text": {"field": "v"}}}
]}
]
}
